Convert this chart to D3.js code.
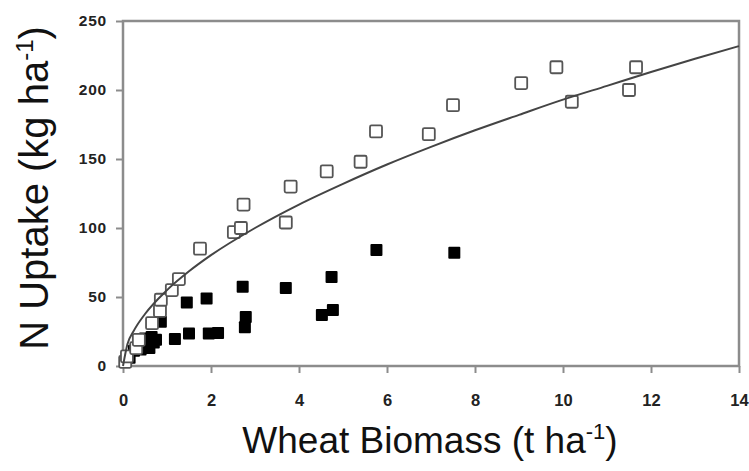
<!DOCTYPE html>
<html>
<head>
<meta charset="utf-8">
<script src="https://cdn.jsdelivr.net/npm/d3@7"></script>
<style>
  html, body { margin: 0; padding: 0; background: #fff; }
  svg { display: block; font-family: "Liberation Sans", Arial, Helvetica, sans-serif; }
</style>
</head>
<body>
<svg id="chart" width="749" height="471"></svg>
<script>
// Wheat biomass (t/ha) vs N uptake (kg/ha)
const openX = [0.05, 0.09, 0.3, 0.36, 0.66, 0.84, 0.86, 1.11, 1.27, 1.75, 2.52, 2.68, 2.74, 3.7, 3.81, 4.63, 5.4, 5.75, 6.95, 7.5, 9.05, 9.85, 10.2, 11.5, 11.66];
const openY = [3, 7, 13, 19, 31, 40, 48, 55, 63, 85, 97, 100, 117, 104, 130, 141, 148, 170, 168, 189, 205, 216.5, 191.5, 200, 216.5];

const filledX = [0.05, 0.15, 0.25, 0.4, 0.5, 0.55, 0.6, 0.65, 0.7, 0.75, 0.86, 1.18, 1.45, 1.5, 1.9, 1.95, 2.16, 2.72, 2.77, 2.79, 3.7, 4.52, 4.74, 4.77, 5.76, 7.53];
const filledY = [3, 6, 11, 12, 20, 16, 13, 21, 17, 19, 32, 19.5, 46, 23.5, 49, 23.5, 24, 57.5, 28, 35.5, 56.5, 37, 64.5, 40.5, 84, 82];

// Fitted trend line through the open squares
const fitX = [0, 0.1, 0.25, 0.5, 1, 1.5, 2, 3, 4, 5, 6, 7, 8, 9, 10, 11, 12, 13, 14];
const fitY = [0, 15.7, 25.8, 37.7, 55, 68.6, 80.3, 100, 117, 132, 146, 158.8, 170.8, 182, 193, 203, 213, 222.6, 231.8];

const xTicks = [0, 2, 4, 6, 8, 10, 12, 14];
const yTicks = [0, 50, 100, 150, 200, 250];

const svg = d3.select("#chart");
const x = d3.scaleLinear().domain([0, 14]).range([123, 739]);
const y = d3.scaleLinear().domain([0, 250]).range([366, 21]);
const frameColor = "#8c8c8c";

// Frame
svg.append("rect")
  .attr("x", x(0)).attr("y", y(250))
  .attr("width", x(14) - x(0)).attr("height", y(0) - y(250))
  .attr("fill", "none").attr("stroke", frameColor).attr("stroke-width", 2.5);

// Axes
const yAxis = svg.append("g")
  .attr("transform", `translate(${x(0)},0)`)
  .call(d3.axisLeft(y).tickValues(yTicks).tickSize(7).tickSizeOuter(0).tickPadding(9));
yAxis.select(".domain").remove();
yAxis.selectAll(".tick line").attr("stroke", frameColor).attr("stroke-width", 2);
yAxis.selectAll(".tick text")
  .attr("font-size", 15.5).attr("font-weight", "bold").attr("fill", "#222")
  .attr("letter-spacing", 0.8);

const xAxis = svg.append("g")
  .attr("transform", `translate(0,${y(0)})`)
  .call(d3.axisBottom(x).tickValues(xTicks).tickSize(7).tickSizeOuter(0));
xAxis.select(".domain").remove();
xAxis.selectAll(".tick line").attr("stroke", frameColor).attr("stroke-width", 2);
xAxis.selectAll(".tick text")
  .attr("y", 28).attr("dy", "0.71em")
  .attr("font-size", 16.5).attr("font-weight", "bold").attr("fill", "#222");

// Filled squares
const s = 12;
svg.append("g").selectAll("rect")
  .data(d3.zip(filledX, filledY))
  .join("rect")
  .attr("x", d => x(d[0]) - s / 2).attr("y", d => y(d[1]) - s / 2)
  .attr("width", s).attr("height", s).attr("rx", 1)
  .attr("fill", "#000");

// Open squares
const so = 12;
svg.append("g").selectAll("rect")
  .data(d3.zip(openX, openY))
  .join("rect")
  .attr("x", d => x(d[0]) - so / 2).attr("y", d => y(d[1]) - so / 2)
  .attr("width", so).attr("height", so).attr("rx", 1.5)
  .attr("fill", "#fff").attr("stroke", "#555").attr("stroke-width", 1.8);

// Trend line
const line = d3.line().x(d => x(d[0])).y(d => y(d[1])).curve(d3.curveMonotoneX);
svg.append("path")
  .datum(d3.zip(fitX, fitY))
  .attr("d", line)
  .attr("fill", "none").attr("stroke", "#444").attr("stroke-width", 2);

// Axis titles
const yTitle = svg.append("text")
  .attr("transform", "translate(48,188) rotate(-90)")
  .attr("text-anchor", "middle")
  .attr("font-size", 40).attr("fill", "#111");
yTitle.append("tspan").text("N Uptake (kg ha");
yTitle.append("tspan").attr("font-size", 24).attr("dy", -15).text("-1");
yTitle.append("tspan").attr("dy", 15).text(")");

const xTitle = svg.append("text")
  .attr("x", 430).attr("y", 453)
  .attr("text-anchor", "middle")
  .attr("font-size", 37).attr("fill", "#111");
xTitle.append("tspan").text("Wheat Biomass (t ha");
xTitle.append("tspan").attr("font-size", 22).attr("dy", -14).text("-1");
xTitle.append("tspan").attr("dy", 14).text(")");
</script>
</body>
</html>
